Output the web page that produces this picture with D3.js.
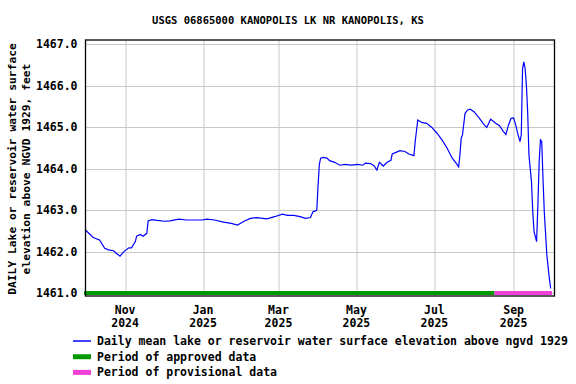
<!DOCTYPE html>
<html>
<head>
<meta charset="utf-8">
<script src="https://cdn.jsdelivr.net/npm/d3@7"></script>
<style>
  body { margin: 0; background: #fff; }
  text { font-family: "DejaVu Sans Mono", monospace; font-weight: bold; fill: #000; }
</style>
</head>
<body>
<div class="chart"></div>
<script>

// DATA ------------------------------

const title = "USGS 06865000 KANOPOLIS LK NR KANOPOLIS, KS";

const dates = [
  "2024-10-01","2024-10-07","2024-10-12","2024-10-16","2024-10-19","2024-10-23","2024-10-25","2024-10-28","2024-10-31",
  "2024-11-04","2024-11-06","2024-11-09","2024-11-10","2024-11-13","2024-11-15","2024-11-18","2024-11-19","2024-11-22","2024-11-26",
  "2024-12-02","2024-12-06","2024-12-13","2024-12-19","2024-12-31",
  "2025-01-04","2025-01-10","2025-01-17","2025-01-23","2025-01-28",
  "2025-02-02","2025-02-07","2025-02-12","2025-02-20","2025-02-26",
  "2025-03-04","2025-03-08","2025-03-13","2025-03-18","2025-03-22","2025-03-26","2025-03-28","2025-03-30","2025-03-31",
  "2025-04-01","2025-04-02","2025-04-03","2025-04-05","2025-04-08","2025-04-10","2025-04-14","2025-04-18","2025-04-22","2025-04-27",
  "2025-05-02","2025-05-06","2025-05-08","2025-05-12","2025-05-15","2025-05-17","2025-05-19","2025-05-22","2025-05-25","2025-05-28","2025-05-29",
  "2025-06-01","2025-06-04","2025-06-08","2025-06-11","2025-06-15","2025-06-16","2025-06-18","2025-06-21","2025-06-25","2025-06-29",
  "2025-07-03","2025-07-07","2025-07-11","2025-07-15","2025-07-18","2025-07-20","2025-07-21","2025-07-22","2025-07-23","2025-07-25","2025-07-27","2025-07-29",
  "2025-08-01","2025-08-05","2025-08-09","2025-08-11","2025-08-14","2025-08-18","2025-08-21","2025-08-24","2025-08-26","2025-08-28","2025-08-30",
  "2025-09-01","2025-09-03","2025-09-04","2025-09-06","2025-09-07","2025-09-08","2025-09-09","2025-09-10","2025-09-11","2025-09-12","2025-09-13",
  "2025-09-15","2025-09-16","2025-09-17","2025-09-19","2025-09-20","2025-09-21","2025-09-22","2025-09-23","2025-09-24","2025-09-25","2025-09-27",
  "2025-09-29","2025-09-30"
];

const levels = [
  1462.52,1462.34,1462.28,1462.08,1462.04,1462.02,1461.96,1461.89,1462.00,
  1462.09,1462.09,1462.24,1462.37,1462.41,1462.37,1462.44,1462.74,1462.77,1462.75,
  1462.73,1462.74,1462.78,1462.76,1462.76,
  1462.78,1462.76,1462.71,1462.68,1462.64,
  1462.73,1462.80,1462.82,1462.79,1462.84,
  1462.90,1462.87,1462.87,1462.84,1462.80,1462.82,1462.96,1462.98,1463.00,
  1463.60,1464.10,1464.25,1464.27,1464.25,1464.19,1464.15,1464.08,1464.10,1464.08,
  1464.10,1464.08,1464.13,1464.12,1464.06,1463.96,1464.15,1464.06,1464.15,1464.20,1464.35,
  1464.39,1464.43,1464.41,1464.35,1464.31,1464.65,1465.17,1465.11,1465.09,1464.99,
  1464.85,1464.69,1464.49,1464.25,1464.13,1464.04,1464.33,1464.73,1464.81,1465.33,1465.41,1465.43,
  1465.37,1465.22,1465.05,1464.99,1465.19,1465.09,1465.03,1464.89,1464.82,1465.05,1465.21,
  1465.22,1465.01,1464.87,1464.65,1464.81,1466.41,1466.57,1466.41,1466.01,1465.37,1464.33,
  1463.68,1462.96,1462.48,1462.24,1463.12,1464.16,1464.69,1464.65,1463.76,1462.96,1461.92,
  1461.35,1461.11
];

// approval periods: [start, end]
const approvedPeriod = ["2024-10-01", "2025-08-17"];
const provisionalPeriod = ["2025-08-17", "2025-10-01"];

const yTicks = [1461, 1462, 1463, 1464, 1465, 1466, 1467];
const xTicks = ["2024-11-01","2025-01-01","2025-03-01","2025-05-01","2025-07-01","2025-09-01"];

const legendItems = [
  {label: "Daily mean lake or reservoir water surface elevation above ngvd 1929", color: "#0000ff", width: 1.5},
  {label: "Period of approved data", color: "#009900", width: 5},
  {label: "Period of provisional data", color: "#f040d8", width: 5}
];


// CHART INIT ------------------------------

const W = 576, H = 384;
const margin = {top: 40, right: 21.5, bottom: 88, left: 85.5};
const width = W - margin.left - margin.right;
const height = H - margin.top - margin.bottom;

const parse = d3.utcParse("%Y-%m-%d");
const data = dates.map((d, i) => ({date: parse(d), value: levels[i]}));

const svg = d3.select(".chart").append("svg")
  .attr("width", W)
  .attr("height", H);

const g = svg.append("g")
  .attr("transform", "translate(" + margin.left + "," + margin.top + ")");

const xScale = d3.scaleUtc()
  .domain([parse("2024-10-01"), parse("2025-10-03")])
  .range([0, width]);

const yScale = d3.scaleLinear()
  .domain([1460.93, 1467.096])
  .range([height, 0]);

// grid
g.append("g")
  .selectAll("line.hgrid")
  .data(yTicks)
  .join("line")
  .attr("x1", 0).attr("x2", width)
  .attr("y1", d => Math.round(yScale(d)) + 0.5)
  .attr("y2", d => Math.round(yScale(d)) + 0.5)
  .attr("stroke", "#c8c8c8");

g.append("g")
  .selectAll("line.vgrid")
  .data(xTicks)
  .join("line")
  .attr("x1", d => Math.round(xScale(parse(d))) + 0.5)
  .attr("x2", d => Math.round(xScale(parse(d))) + 0.5)
  .attr("y1", 0).attr("y2", height)
  .attr("stroke", "#c8c8c8");

// axes
const yAxis = d3.axisLeft(yScale)
  .tickValues(yTicks)
  .tickSize(0)
  .tickPadding(8)
  .tickFormat(d3.format(".1f"));

g.append("g")
  .attr("class", "y-axis")
  .call(yAxis)
  .call(a => a.select(".domain").remove())
  .selectAll("text")
  .attr("font-size", 11.5)
  .attr("font-family", null);

const fmtMon = d3.utcFormat("%b");
const fmtYear = d3.utcFormat("%Y");

const xLabels = g.append("g")
  .attr("class", "x-axis")
  .selectAll("text")
  .data(xTicks)
  .join("text")
  .attr("text-anchor", "middle")
  .attr("font-size", 11.5)
  .attr("transform", d => `translate(${xScale(parse(d))},${height})`);

xLabels.append("tspan").attr("x", 0).attr("y", 18).text(d => fmtMon(parse(d)));
xLabels.append("tspan").attr("x", 0).attr("y", 31).text(d => fmtYear(parse(d)));

// period bars
const periods = [
  {range: approvedPeriod, color: legendItems[1].color},
  {range: provisionalPeriod, color: legendItems[2].color}
];

g.append("g")
  .selectAll("line")
  .data(periods)
  .join("line")
  .attr("x1", d => xScale(parse(d.range[0])) - (d === periods[0] ? 1.5 : 0))
  .attr("x2", d => xScale(parse(d.range[1])))
  .attr("y1", yScale(1461))
  .attr("y2", yScale(1461))
  .attr("stroke", d => d.color)
  .attr("stroke-width", 4);

// data line
const line = d3.line()
  .x(d => xScale(d.date))
  .y(d => yScale(d.value));

g.append("path")
  .datum(data)
  .attr("fill", "none")
  .attr("stroke", "#0000ff")
  .attr("stroke-width", 1.2)
  .attr("d", line);

// frame
g.append("rect")
  .attr("x", 0).attr("y", 0)
  .attr("width", width).attr("height", height)
  .attr("fill", "none")
  .attr("stroke", "#000")
  .attr("stroke-width", 1.3);

// title
svg.append("text")
  .attr("x", W / 2)
  .attr("y", 24)
  .attr("text-anchor", "middle")
  .attr("font-size", 10.5)
  .text(title);

// y-axis title
const yTitle = svg.append("text")
  .attr("text-anchor", "middle")
  .attr("font-size", 11.3)
  .attr("transform", "translate(0,169) rotate(-90)");

yTitle.append("tspan").attr("x", 0).attr("y", 16).text("DAILY Lake or reservoir water surface");
yTitle.append("tspan").attr("x", 0).attr("y", 30).text("elevation above NGVD 1929, feet");

// legend
const legend = svg.append("g")
  .attr("transform", "translate(73,341)");

const items = legend.selectAll("g")
  .data(legendItems)
  .join("g")
  .attr("transform", (d, i) => `translate(0,${i * 15.7})`);

items.append("line")
  .attr("x1", 0).attr("x2", 18)
  .attr("y1", 0).attr("y2", 0)
  .attr("stroke", d => d.color)
  .attr("stroke-width", d => d.width);

items.append("text")
  .attr("x", 24)
  .attr("y", 4)
  .attr("font-size", 11.5)
  .text(d => d.label);

</script>
</body>
</html>
